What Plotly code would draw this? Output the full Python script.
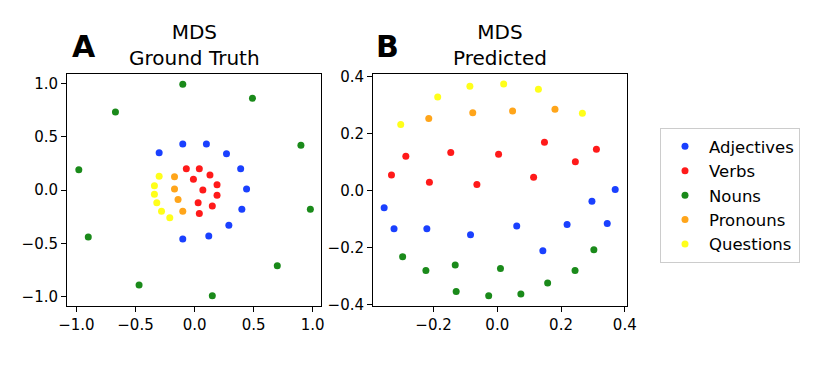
import plotly.graph_objects as go

# MDS coordinates, ground truth
gt_adj_x = [-0.10, 0.10, -0.30, 0.27, 0.39, 0.44, 0.40, 0.29, 0.12, -0.10]
gt_adj_y = [0.43, 0.43, 0.35, 0.34, 0.20, 0.01, -0.18, -0.33, -0.43, -0.46]
gt_verb_x = [-0.07, 0.04, 0.13, -0.01, 0.19, 0.07, 0.19, 0.03, 0.15, 0.04]
gt_verb_y = [0.20, 0.20, 0.14, 0.10, 0.05, 0.00, -0.05, -0.12, -0.15, -0.22]
gt_noun_x = [-0.10, 0.49, -0.67, 0.90, -0.98, 0.98, -0.90, 0.70, -0.47, 0.15]
gt_noun_y = [0.99, 0.86, 0.73, 0.42, 0.19, -0.18, -0.44, -0.71, -0.89, -0.99]
gt_pron_x = [-0.17, -0.17, -0.14, -0.10]
gt_pron_y = [0.125, 0.01, -0.09, -0.20]
gt_ques_x = [-0.30, -0.34, -0.34, -0.32, -0.28, -0.21]
gt_ques_y = [0.13, 0.04, -0.04, -0.12, -0.20, -0.26]

# MDS coordinates, predicted
pr_adj_x = [-0.355, -0.324, -0.221, -0.084, 0.061, 0.143, 0.219, 0.297, 0.345, 0.370]
pr_adj_y = [-0.060, -0.134, -0.134, -0.155, -0.124, -0.211, -0.119, -0.037, -0.115, 0.004]
pr_verb_x = [-0.287, -0.332, -0.146, 0.004, 0.148, 0.311, 0.245, -0.213, -0.064, 0.114]
pr_verb_y = [0.121, 0.055, 0.134, 0.128, 0.170, 0.146, 0.102, 0.030, 0.022, 0.047]
pr_noun_x = [-0.297, -0.224, -0.132, 0.010, -0.129, -0.027, 0.074, 0.158, 0.244, 0.303]
pr_noun_y = [-0.232, -0.280, -0.261, -0.273, -0.354, -0.369, -0.363, -0.324, -0.280, -0.207]
pr_pron_x = [-0.215, -0.077, 0.048, 0.181]
pr_pron_y = [0.254, 0.274, 0.280, 0.286]
pr_ques_x = [-0.303, -0.187, -0.086, 0.020, 0.129, 0.267]
pr_ques_y = [0.233, 0.329, 0.367, 0.375, 0.356, 0.272]

names = ['Adjectives', 'Verbs', 'Nouns', 'Pronouns', 'Questions']
colors = ['#1a40ff', '#ff1a1a', '#1a8a1a', '#ffa51a', '#ffff1a']

gt = [(gt_adj_x, gt_adj_y), (gt_verb_x, gt_verb_y), (gt_noun_x, gt_noun_y),
      (gt_pron_x, gt_pron_y), (gt_ques_x, gt_ques_y)]
pr = [(pr_adj_x, pr_adj_y), (pr_verb_x, pr_verb_y), (pr_noun_x, pr_noun_y),
      (pr_pron_x, pr_pron_y), (pr_ques_x, pr_ques_y)]

font = 'DejaVu Sans'

# page body has an 8px margin, so the figure is 8px smaller and offset
OFF = 8
W, H = 817 - OFF, 369 - OFF


def fx(px):
    return (px - OFF) / W


def fy(py):
    return 1 - (py - OFF) / H


fig = go.Figure()

for i, name in enumerate(names):
    fig.add_trace(go.Scatter(x=gt[i][0], y=gt[i][1], mode='markers', name=name,
                             marker=dict(color=colors[i], size=7),
                             showlegend=False, xaxis='x', yaxis='y'))
    fig.add_trace(go.Scatter(x=pr[i][0], y=pr[i][1], mode='markers', name=name,
                             marker=dict(color=colors[i], size=7),
                             xaxis='x2', yaxis='y2'))

ax_common = dict(showgrid=False, zeroline=False, showline=True, mirror=True,
                 linecolor='black', linewidth=1, ticks='outside', ticklen=5,
                 tickcolor='black', automargin=False,
                 tickfont=dict(family=font, size=15, color='black'))

fig.update_layout(
    width=W, height=H,
    margin=dict(l=0, r=0, t=0, b=0, autoexpand=False),
    plot_bgcolor='white', paper_bgcolor='white',
    font=dict(family=font, color='black'),
    xaxis=dict(domain=[fx(67), fx(321)], range=[-1.08, 1.07],
               tickvals=[-1, -0.5, 0, 0.5, 1], tickformat='.1f', **ax_common),
    yaxis=dict(domain=[fy(306), fy(74)], range=[-1.087, 1.087],
               tickvals=[-1, -0.5, 0, 0.5, 1], tickformat='.1f', **ax_common),
    xaxis2=dict(domain=[fx(373), fx(627)], range=[-0.39, 0.407], anchor='y2',
                tickvals=[-0.4, -0.2, 0, 0.2, 0.4], tickformat='.1f', **ax_common),
    yaxis2=dict(domain=[fy(306), fy(74)], range=[-0.405, 0.41], anchor='x2',
                tickvals=[-0.4, -0.2, 0, 0.2, 0.4], tickformat='.1f', **ax_common),
    legend=dict(x=fx(660), y=fy(128), xanchor='left', yanchor='top',
                bordercolor='#cccccc', borderwidth=1, itemwidth=38,
                font=dict(family=font, size=16.5, color='black'),
                itemsizing='trace'),
)

fig.add_annotation(x=fx((67 + 321) / 2), y=fy(45), xref='paper', yref='paper',
                   xanchor='center', yanchor='middle', showarrow=False,
                   text='MDS<br>Ground Truth', font=dict(family=font, size=20))
fig.add_annotation(x=fx((373 + 627) / 2), y=fy(45), xref='paper', yref='paper',
                   xanchor='center', yanchor='middle', showarrow=False,
                   text='MDS<br>Predicted', font=dict(family=font, size=20))
fig.add_annotation(x=fx(84), y=fy(47), xref='paper', yref='paper',
                   xanchor='center', yanchor='middle', showarrow=False,
                   text='<b>A</b>', font=dict(family=font, size=30))
fig.add_annotation(x=fx(387), y=fy(47), xref='paper', yref='paper',
                   xanchor='center', yanchor='middle', showarrow=False,
                   text='<b>B</b>', font=dict(family=font, size=30))

fig.write_html('out.html')
